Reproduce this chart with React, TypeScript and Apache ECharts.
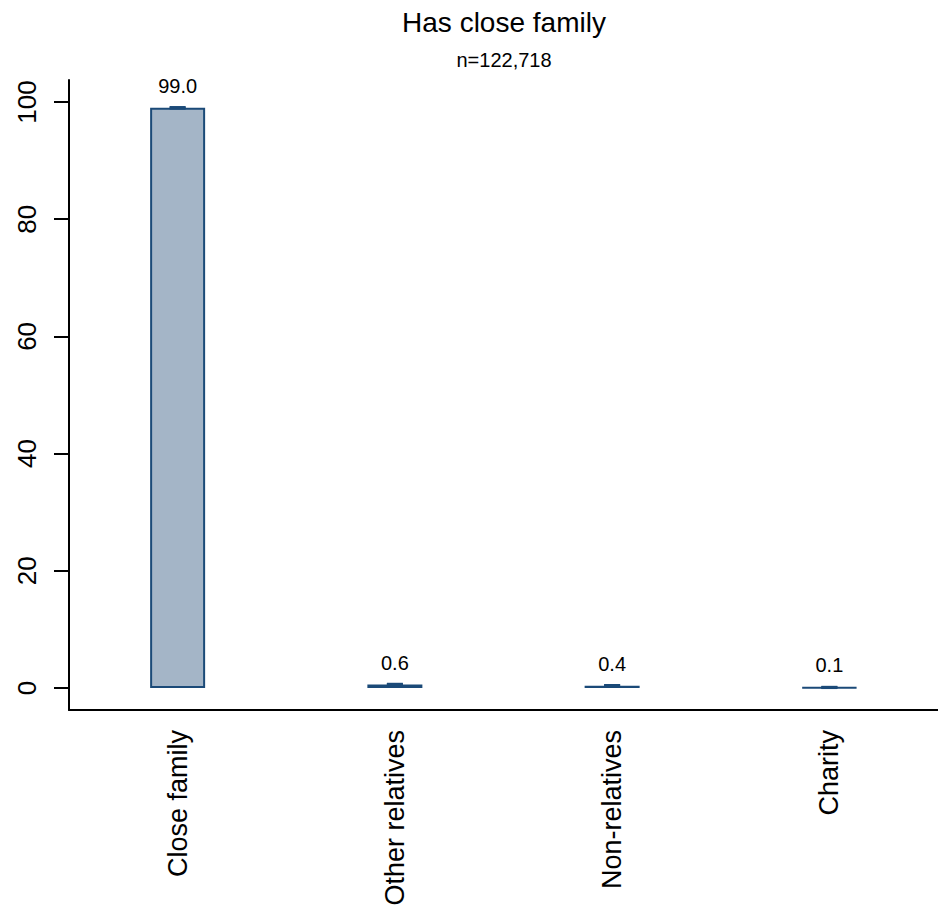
import React, { useEffect, useRef } from "react";
import * as echarts from "echarts";

const categories = ["Close family", "Other relatives", "Non-relatives", "Charity"];
const values = [99.0, 0.6, 0.4, 0.1];
const errLow = [98.95, 0.56, 0.37, 0.08];
const errHigh = [99.05, 0.64, 0.43, 0.12];
const yTicks = [0, 20, 40, 60, 80, 100];
const titleText = "Has close family";
const subtitleText = "n=122,718";

const FONT = "Liberation Sans, Arial, Helvetica, sans-serif";
const DARK = "#1b4a78";

export default function App() {
  const ref = useRef<HTMLDivElement>(null);
  useEffect(() => {
    if (!ref.current) return;
    const chart = echarts.init(ref.current, null, { renderer: "svg" });
    chart.setOption({
      animation: false,
      backgroundColor: "#ffffff",
      graphic: [
        {
          type: "text",
          x: 504,
          y: 22,
          style: {
            text: titleText,
            fontFamily: FONT,
            fontSize: 28,
            fill: "#000",
            textAlign: "center",
            textVerticalAlign: "middle",
          },
        },
        {
          type: "text",
          x: 504,
          y: 60,
          style: {
            text: subtitleText,
            fontFamily: FONT,
            fontSize: 20,
            fill: "#000",
            textAlign: "center",
            textVerticalAlign: "middle",
          },
        },
      ],
      grid: { left: 69, right: 0, top: 80, bottom: 199, containLabel: false },
      xAxis: {
        type: "category",
        data: categories,
        boundaryGap: true,
        axisLine: { onZero: false, lineStyle: { color: "#000", width: 2 } },
        axisTick: { alignWithLabel: true, length: 14, lineStyle: { color: "#000", width: 2 } },
        axisLabel: {
          rotate: 90,
          margin: 20,
          fontFamily: FONT,
          fontSize: 27,
          color: "#000",
        },
      },
      yAxis: {
        type: "value",
        min: -3.75,
        max: 103.75,
        splitLine: { show: false },
        axisLine: { show: true, lineStyle: { color: "#000", width: 2 } },
        axisTick: { show: true, length: 15, customValues: yTicks, lineStyle: { color: "#000", width: 2 } },
        axisLabel: {
          customValues: yTicks,
          rotate: 90,
          margin: 29,
          fontFamily: FONT,
          fontSize: 26,
          color: "#000",
        },
      },
      series: [
        {
          type: "bar",
          data: values,
          barWidth: 55,
          itemStyle: { color: "#a4b5c7", borderColor: DARK, borderWidth: 2 },
          label: {
            show: true,
            position: "top",
            distance: 12,
            formatter: (p: any) => p.value.toFixed(1),
            fontFamily: FONT,
            fontSize: 20,
            color: "#000",
          },
        },
        {
          type: "custom",
          data: categories.map((_, i) => [i, errLow[i], errHigh[i]]),
          renderItem: (params: any, api: any) => {
            const x = api.value(0);
            const lo = api.coord([x, api.value(1)]);
            const hi = api.coord([x, api.value(2)]);
            const half = 8;
            return {
              type: "group",
              children: [
                { type: "line", shape: { x1: lo[0], y1: lo[1], x2: hi[0], y2: hi[1] }, style: { stroke: DARK, lineWidth: 2 } },
                { type: "line", shape: { x1: lo[0] - half, y1: lo[1], x2: lo[0] + half, y2: lo[1] }, style: { stroke: DARK, lineWidth: 3 } },
                { type: "line", shape: { x1: hi[0] - half, y1: hi[1], x2: hi[0] + half, y2: hi[1] }, style: { stroke: DARK, lineWidth: 3 } },
              ],
            };
          },
          z: 5,
        },
      ],
    });
    return () => chart.dispose();
  }, []);
  return (
    <div
      ref={ref}
      style={{ position: "absolute", left: 0, top: 0, width: 938, height: 909 }}
    />
  );
}
